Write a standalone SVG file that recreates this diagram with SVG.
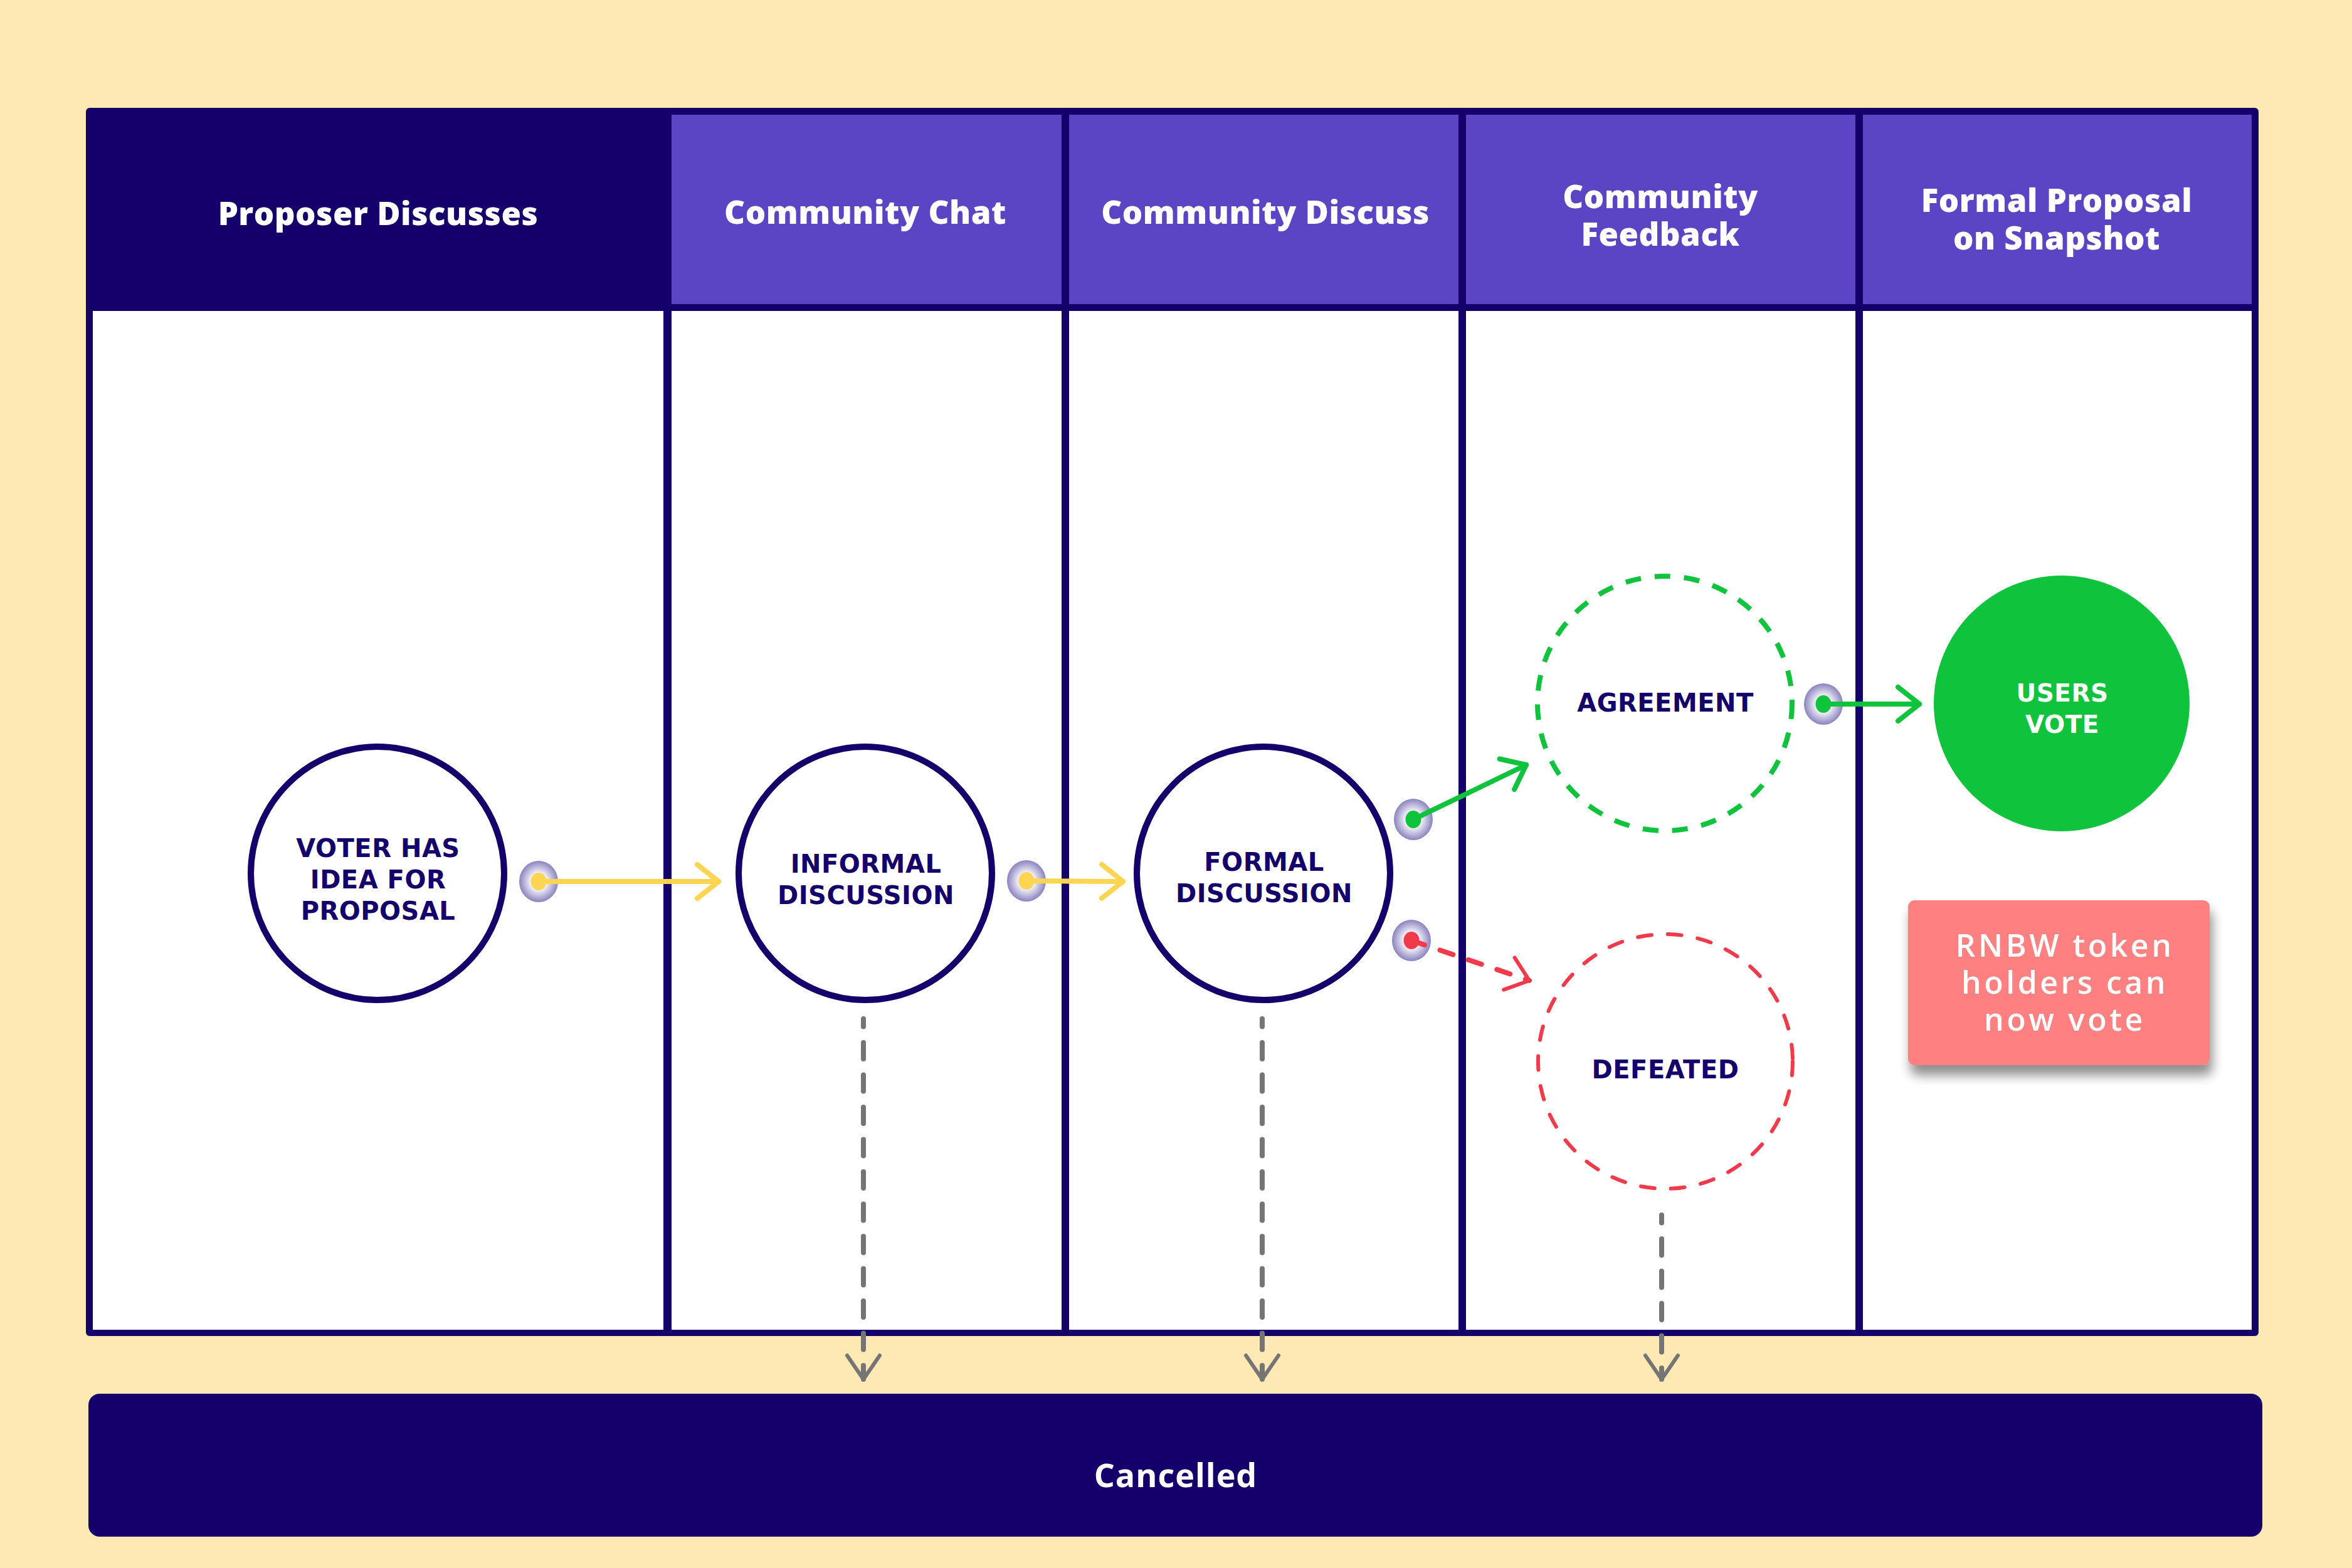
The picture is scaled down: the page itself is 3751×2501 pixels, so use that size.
<svg xmlns="http://www.w3.org/2000/svg" width="3751" height="2501" viewBox="0 0 3751 2501">
  <style>
    .hdr { font-family: "Open Sans", "Liberation Sans", sans-serif; font-weight: 800; font-size: 51px; fill: #ffffff; text-anchor: middle; letter-spacing: 0.5px; }
    .lbl { font-family: "DejaVu Sans", "Open Sans", sans-serif; font-weight: 700; font-size: 40px; fill: #15006b; text-anchor: middle; letter-spacing: 0.5px; }
    .lbl-w { font-family: "DejaVu Sans", "Open Sans", sans-serif; font-weight: 600; font-size: 39px; fill: #ffffff; text-anchor: middle; letter-spacing: 0.5px; }
    .note { font-family: "Open Sans", "Liberation Sans", sans-serif; font-weight: 600; font-size: 50px; fill: #ffffff; text-anchor: middle; letter-spacing: 4.5px; }
    .end { font-family: "Open Sans", "Liberation Sans", sans-serif; font-weight: 700; font-size: 52px; fill: #ffffff; text-anchor: middle; letter-spacing: 1px; }
    .state { fill: #ffffff; stroke: #15006b; stroke-width: 10; }
    .port { fill: url(#portGlow); }
    .conn { fill: none; stroke-width: 8; stroke-linecap: round; }
    .cell-h { fill: #5c45c4; }
    .cell-b { fill: #ffffff; }
  </style>
  <defs>
    <radialGradient id="portGlow" cx="0.5" cy="0.5" r="0.5">
      <stop offset="0" stop-color="#ffffff"/>
      <stop offset="0.4" stop-color="#f4f3fa"/>
      <stop offset="1" stop-color="#8a83bf"/>
    </radialGradient>
    <filter id="cardShadow" x="-10%" y="-10%" width="125%" height="140%">
      <feGaussianBlur in="SourceAlpha" stdDeviation="9"/>
      <feOffset dx="4" dy="16" result="b"/>
      <feComponentTransfer><feFuncA type="linear" slope="0.45"/></feComponentTransfer>
      <feMerge><feMergeNode/><feMergeNode in="SourceGraphic"/></feMerge>
    </filter>
    <marker id="arrowYellow" markerUnits="userSpaceOnUse" viewBox="-50 -50 100 100" markerWidth="100" markerHeight="100" refX="0" refY="0" orient="auto">
      <path d="M -34 -27 L 0 0 L -34 27" fill="none" stroke="#fdd553" stroke-width="8" stroke-linecap="round" stroke-linejoin="round"/>
    </marker>
    <marker id="arrowGreen" markerUnits="userSpaceOnUse" viewBox="-50 -50 100 100" markerWidth="100" markerHeight="100" refX="0" refY="0" orient="auto">
      <path d="M -34 -27 L 0 0 L -34 27" fill="none" stroke="#10c33d" stroke-width="8" stroke-linecap="round" stroke-linejoin="round"/>
    </marker>
    <marker id="arrowRed" markerUnits="userSpaceOnUse" viewBox="-50 -50 100 100" markerWidth="100" markerHeight="100" refX="0" refY="0" orient="auto">
      <path d="M -34 -27 L 0 0 L -34 27" fill="none" stroke="#f23a4a" stroke-width="6" stroke-linecap="round" stroke-linejoin="round"/>
    </marker>
    <marker id="arrowGrey" markerUnits="userSpaceOnUse" viewBox="-50 -50 100 100" markerWidth="100" markerHeight="100" refX="0" refY="0" orient="auto">
      <path d="M -38 -26 L 0 0 L -38 26" fill="none" stroke="#757575" stroke-width="6" stroke-linecap="round" stroke-linejoin="round"/>
    </marker>
  </defs>

  <!-- page -->
  <rect x="0" y="0" width="3751" height="2501" fill="#fee8b3"/>

  <!-- swimlane frame -->
  <g id="lanes">
    <rect x="137" y="172" width="3465" height="1959" rx="6" fill="#15006b"/>
    <rect class="cell-b" x="148" y="496" width="910" height="1625"/>
    <rect class="cell-h" x="1071" y="183" width="622" height="302"/>
    <rect class="cell-b" x="1071" y="496" width="622" height="1625"/>
    <rect class="cell-h" x="1705" y="183" width="621" height="302"/>
    <rect class="cell-b" x="1705" y="496" width="621" height="1625"/>
    <rect class="cell-h" x="2338" y="183" width="621" height="302"/>
    <rect class="cell-b" x="2338" y="496" width="621" height="1625"/>
    <rect class="cell-h" x="2971" y="183" width="620" height="302"/>
    <rect class="cell-b" x="2971" y="496" width="620" height="1625"/>
  </g>

  <g id="lane-headers">
    <text class="hdr" x="603" y="359">Proposer Discusses</text>
    <text class="hdr" x="1380" y="357">Community Chat</text>
    <text class="hdr" x="2018" y="357">Community Discuss</text>
    <text class="hdr" x="2648" y="332">Community<tspan x="2648" dy="60">Feedback</tspan></text>
    <text class="hdr" x="3280" y="338">Formal Proposal<tspan x="3280" dy="60">on Snapshot</tspan></text>
  </g>

  <!-- states -->
  <g id="node-voter-idea">
    <circle class="state" cx="602" cy="1393" r="202"/>
    <text class="lbl" x="603" y="1367">VOTER HAS<tspan x="603" dy="50">IDEA FOR</tspan><tspan x="603" dy="50">PROPOSAL</tspan></text>
  </g>
  <g id="node-informal">
    <circle class="state" cx="1380" cy="1393" r="202"/>
    <text class="lbl" x="1381" y="1392">INFORMAL<tspan x="1381" dy="50">DISCUSSION</tspan></text>
  </g>
  <g id="node-formal">
    <circle class="state" cx="2015" cy="1393" r="202"/>
    <text class="lbl" x="2016" y="1389">FORMAL<tspan x="2016" dy="50">DISCUSSION</tspan></text>
  </g>
  <g id="node-agreement">
    <circle cx="2655" cy="1122" r="203" fill="none" stroke="#10c33d" stroke-width="8" stroke-dasharray="25 22"/>
    <text class="lbl" x="2656" y="1135">AGREEMENT</text>
  </g>
  <g id="node-users-vote">
    <circle cx="3288" cy="1122" r="204" fill="#10c33d"/>
    <text class="lbl-w" x="3289" y="1119">USERS<tspan x="3289" dy="50">VOTE</tspan></text>
  </g>
  <g id="node-defeated">
    <circle cx="2656" cy="1693" r="203" fill="none" stroke="#f23a4a" stroke-width="6" stroke-linecap="round" stroke-dasharray="22 26"/>
    <text class="lbl" x="2656" y="1720">DEFEATED</text>
  </g>
  <g id="node-note">
    <rect x="3043" y="1436" width="481" height="263" rx="10" fill="#fe8080" filter="url(#cardShadow)"/>
    <text class="note" x="3293" y="1526">RNBW token<tspan x="3293" dy="59">holders can</tspan><tspan x="3293" dy="59">now vote</tspan></text>
  </g>
  <g id="node-cancelled">
    <rect x="141" y="2223" width="3467" height="228" rx="18" fill="#15006b"/>
    <text class="end" x="1875" y="2372">Cancelled</text>
  </g>

  <!-- connectors -->
  <g id="connectors">
    <g id="ports">
      <ellipse class="port" cx="859" cy="1406" rx="31" ry="33"/>
      <ellipse class="port" cx="1637" cy="1405" rx="31" ry="33"/>
      <ellipse class="port" cx="2254" cy="1307" rx="31" ry="33"/>
      <ellipse class="port" cx="2251" cy="1500" rx="31" ry="33"/>
      <ellipse class="port" cx="2908" cy="1123" rx="31" ry="33"/>
    </g>
    <path class="conn" stroke="#fdd553" d="M 859 1406 L 1146 1406" marker-end="url(#arrowYellow)"/>
    <path class="conn" stroke="#fdd553" d="M 1637 1405 L 1791 1406" marker-end="url(#arrowYellow)"/>
    <path class="conn" stroke="#10c33d" d="M 2254 1307 L 2434 1220" marker-end="url(#arrowGreen)"/>
    <path class="conn" stroke="#f23a4a" stroke-width="6" stroke-dasharray="22 26" d="M 2251 1500 L 2439 1564" marker-end="url(#arrowRed)"/>
    <path class="conn" stroke="#10c33d" d="M 2908 1123 L 3061 1123" marker-end="url(#arrowGreen)"/>
    <path class="conn" stroke="#757575" stroke-width="6" stroke-dasharray="26 25.5" stroke-dashoffset="13.5" d="M 1377 1625 L 1377 2200" marker-end="url(#arrowGrey)"/>
    <path class="conn" stroke="#757575" stroke-width="6" stroke-dasharray="26 25.5" stroke-dashoffset="13.5" d="M 2013 1625 L 2013 2200" marker-end="url(#arrowGrey)"/>
    <path class="conn" stroke="#757575" stroke-width="6" stroke-dasharray="26 25.5" stroke-dashoffset="13.5" d="M 2650 1938 L 2650 2200" marker-end="url(#arrowGrey)"/>
    <g id="port-dots">
      <ellipse cx="859" cy="1406" rx="12.5" ry="14" fill="#fdd553"/>
      <ellipse cx="1637" cy="1405" rx="12.5" ry="14" fill="#fdd553"/>
      <ellipse cx="2254" cy="1307" rx="12.5" ry="14" fill="#10c33d"/>
      <ellipse cx="2251" cy="1500" rx="12.5" ry="14" fill="#f23a4a"/>
      <ellipse cx="2908" cy="1123" rx="12.5" ry="14" fill="#10c33d"/>
    </g>
  </g>
</svg>
